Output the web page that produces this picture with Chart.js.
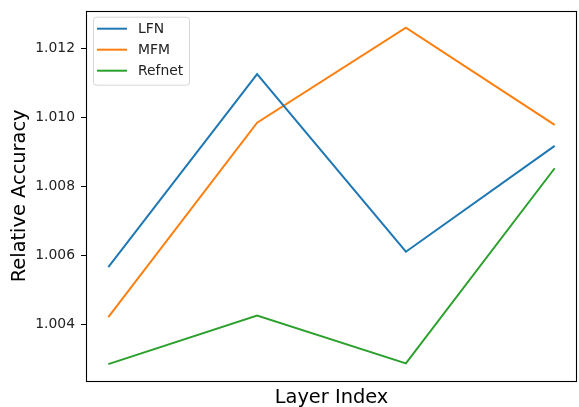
<!DOCTYPE html>
<html>
<head>
<meta charset="utf-8">
<script src="https://cdn.jsdelivr.net/npm/chart.js@4/dist/chart.umd.min.js"></script>
<style>
  html, body { margin: 0; padding: 0; background: #fff; }
  #wrap { width: 579px; height: 407px; position: relative; }
</style>
</head>
<body>
<div id="wrap"><canvas id="c"></canvas></div>
<script>
// Layer positions along the x axis (no tick labels are shown)
const layerIdx = [0, 1, 2, 3];

// Relative accuracy per layer for each method
const lfn    = [1.00565, 1.01125, 1.00610, 1.00917];
const mfm    = [1.00420, 1.00984, 1.01260, 1.00978];
const refnet = [1.00284, 1.00425, 1.00286, 1.00852];

const seriesNames  = ['LFN', 'MFM', 'Refnet'];
const seriesColors = ['#1f77b4', '#ff7f0e', '#2ca02c'];

// y tick values
const yTicks = [1.004, 1.006, 1.008, 1.010, 1.012];

const FONT = 'DejaVu Sans';
const TICK_SIZE = 13.9;
const TITLE_SIZE = 19.4;

function pts(vals) { return vals.map((v, i) => ({ x: layerIdx[i], y: v })); }

// Frame around the plot area
const framePlugin = {
  id: 'frame',
  afterDraw(chart) {
    const { ctx, chartArea: a } = chart;
    ctx.save();
    ctx.strokeStyle = '#000';
    ctx.lineWidth = 1.1;
    ctx.strokeRect(Math.round(a.left) + 0.5, Math.round(a.top) + 0.5,
                   Math.round(a.right - a.left) - 1, Math.round(a.bottom - a.top));
    ctx.restore();
  }
};

// Legend box drawn inside the upper-left corner of the plot area
const insideLegend = {
  id: 'insideLegend',
  afterDraw(chart) {
    const { ctx, chartArea: a } = chart;
    const x0 = a.left + 7, y0 = a.top + 6, w = 96, h = 68, r = 3;
    ctx.save();
    ctx.beginPath();
    ctx.roundRect(x0 + 0.5, y0 + 0.5, w, h, r);
    ctx.fillStyle = 'rgba(255,255,255,0.8)';
    ctx.fill();
    ctx.strokeStyle = '#d6d6d6';
    ctx.lineWidth = 1;
    ctx.stroke();
    ctx.font = TICK_SIZE + 'px "' + FONT + '"';
    ctx.textBaseline = 'middle';
    chart.data.datasets.forEach((ds, i) => {
      const y = y0 + 12 + i * 21;
      ctx.beginPath();
      ctx.moveTo(x0 + 4, y);
      ctx.lineTo(x0 + 34, y);
      ctx.strokeStyle = ds.borderColor;
      ctx.lineWidth = 2;
      ctx.stroke();
      ctx.fillStyle = '#222';
      ctx.fillText(ds.label, x0 + 45, y + 0.5);
    });
    ctx.restore();
  }
};

new Chart(document.getElementById('c'), {
  type: 'line',
  data: {
    datasets: [lfn, mfm, refnet].map((vals, i) => ({
      label: seriesNames[i],
      data: pts(vals),
      borderColor: seriesColors[i],
      backgroundColor: seriesColors[i],
      borderWidth: 2,
      pointRadius: 0,
      tension: 0,
      fill: false
    }))
  },
  options: {
    responsive: true,
    maintainAspectRatio: false,
    animation: false,
    devicePixelRatio: 1,
    layout: { padding: { top: 10.7, right: 2, left: 0, bottom: 0 } },
    plugins: { legend: { display: false }, tooltip: { enabled: false } },
    scales: {
      x: {
        type: 'linear',
        min: -0.15,
        max: 3.15,
        ticks: { display: false },
        grid: { display: false },
        border: { display: false },
        title: {
          display: true,
          text: 'Layer Index',
          color: '#000',
          font: { family: FONT, size: TITLE_SIZE, lineHeight: 0.9 },
          padding: { top: 0, bottom: 0 }
        },
        afterFit(scale) { scale.height = 26; }
      },
      y: {
        type: 'linear',
        min: 1.00235,
        max: 1.01309,
        afterBuildTicks(scale) { scale.ticks = yTicks.map(v => ({ value: v })); },
        ticks: {
          color: '#222',
          font: { family: FONT, size: TICK_SIZE },
          padding: 6,
          callback: v => Number(v).toFixed(3)
        },
        grid: {
          drawOnChartArea: false,
          drawTicks: true,
          tickLength: 5,
          tickColor: '#000',
          tickWidth: 1
        },
        border: { display: false },
        title: {
          display: true,
          text: 'Relative Accuracy',
          color: '#000',
          font: { family: FONT, size: TITLE_SIZE },
          padding: { top: 8, bottom: 0 }
        },
        afterFit(scale) {
          scale.width = 86;
          scale.paddingTop = 0;
          scale.paddingBottom = 0;
        }
      }
    }
  },
  plugins: [framePlugin, insideLegend]
});
</script>
</body>
</html>
